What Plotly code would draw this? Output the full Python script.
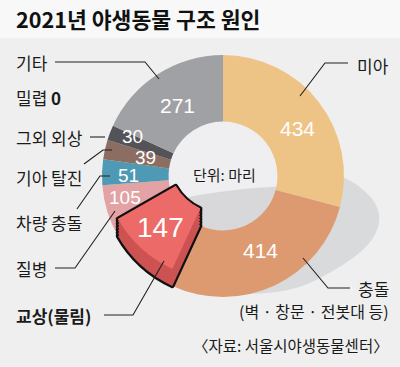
import math
import plotly.graph_objects as go

W, H = 400, 367

# ---- data ----
categories = ["미아", "충돌", "교상(물림)", "질병", "차량 충돌", "기아 탈진", "그외 외상", "밀렵", "기타"]
values = [434, 414, 147, 105, 51, 39, 30, 0, 271]
colors = ["#EEC386", "#DD9A70", "#EC6A67", "#E3A2A3", "#4E99B4", "#8B6D62", "#535358", "#999999", "#A0A1A5"]
highlight = [False, False, True, False, False, False, False, False, False]
# in-slice number label placement (radius in px, angle nudge in degrees)
label_r = [89, 83, 93, 100, 95, 80, 99, 0, 84]
label_da = [5, -1.4, 0, 4.4, -1.2, 1.1, 2.3, 0, 0]
label_size = [21, 21, 28, 19, 19, 19, 19, 0, 21]

KR = "Noto Sans CJK KR"
NUM = "Liberation Sans, Arial"

cx, cy = 223, 176
r_out = 121
hole = 0.45
lift = 17          # raised (extruded) height of the highlighted slice, px
side_color = "#CC5351"
edge_color = "#111111"


def px(x):
    return x / W


def py(y):
    return 1 - y / H


def P(x, y):
    return f"{px(x)},{py(y)}"


def dom(shift=0):
    return dict(x=[px(cx - r_out), px(cx + r_out)],
                y=[py(cy + r_out - shift), py(cy - r_out - shift)])


common = dict(labels=categories, values=values, sort=False, direction="clockwise", rotation=0,
              hole=hole, textinfo="none", showlegend=False)

fig = go.Figure()
fig.add_trace(go.Pie(**common, hoverinfo="label+value",
                     marker=dict(colors=colors, line=dict(width=0)), domain=dom(0)))

clear = "rgba(0,0,0,0)"
shifts = list(range(0, lift, 3)) + [lift]
# silhouette outline of the raised block
for s in shifts:
    fig.add_trace(go.Pie(**common, hoverinfo="skip",
                         marker=dict(colors=[edge_color if h else clear for h in highlight],
                                     line=dict(color=[edge_color if h else clear for h in highlight],
                                               width=[4.5 if h else 0 for h in highlight])),
                         domain=dom(s)))
# side faces
for s in shifts:
    fig.add_trace(go.Pie(**common, hoverinfo="skip",
                         marker=dict(colors=[side_color if h else clear for h in highlight],
                                     line=dict(width=0)),
                         domain=dom(s)))
# top face
fig.add_trace(go.Pie(**common, hoverinfo="skip",
                     marker=dict(colors=[c if h else clear for c, h in zip(colors, highlight)],
                                 line=dict(width=0)),
                     domain=dom(lift)))

shapes = []
# title band
shapes.append(dict(type="rect", xref="paper", yref="paper", x0=0, x1=1, y0=py(38), y1=1,
                   fillcolor="#F8F8F8", line_width=0, layer="below"))
# soft shadow to the lower right of the donut
shadow = (f"M {P(300,170)} L {P(343,177)} C {P(366,188)} {P(382,205)} {P(379,222)} "
          f"C {P(376,245)} {P(350,262)} {P(320,278)} C {P(300,289)} {P(280,293)} {P(250,294)} "
          f"L {P(250,240)} Z")
shapes.append(dict(type="path", xref="paper", yref="paper", path=shadow,
                   fillcolor="#D9DADC", line_width=0, layer="below"))
# hole: shaded lower part, light upper part
shapes.append(dict(type="circle", xref="paper", yref="paper", x0=px(cx - 58), x1=px(cx + 58),
                   y0=py(cy + 58), y1=py(cy - 58), fillcolor="#D8D8DA", line_width=0, layer="below"))
path = (f"M {P(160,100)} L {P(292,100)} L {P(292,186)} "
        f"Q {P(223,188)} {P(160,203)} Z")
shapes.append(dict(type="path", xref="paper", yref="paper", path=path,
                   fillcolor="#EFEFF1", line_width=0, layer="below"))

# leader lines
leaders = [
    [(55, 62), (145, 62), (159, 79)],          # 기타
    [(90, 137), (105, 137)],                    # 그외 외상
    [(84, 164), (103, 150), (112, 150)],        # 기아 탈진
    [(77, 209), (100, 176), (110, 176)],        # 차량 충돌
    [(55, 268), (75, 268), (115, 211)],         # 질병
    [(104, 315), (133, 315), (164, 261)],       # 교상
    [(348, 63), (325, 63), (300, 96)],          # 미아
    [(303, 258), (328, 288), (350, 288)],       # 충돌
]
for pts in leaders:
    d = "M " + " L ".join(P(x, y) for x, y in pts)
    shapes.append(dict(type="path", xref="paper", yref="paper", path=d,
                       line=dict(color="#222222", width=1.1)))

ann = []
# numbers inside slices computed from slice angles
total = sum(values)
cum = 0
for v, r, da, fs, h in zip(values, label_r, label_da, label_size, highlight):
    mid = (cum + v / 2) / total * 360 + da
    cum += v
    if v == 0:
        continue
    a = math.radians(mid)
    x = cx + r * math.sin(a)
    y = cy - r * math.cos(a) - (lift if h else 0)
    ann.append(dict(x=px(x), y=py(y), xref="paper", yref="paper", text=str(v), showarrow=False,
                    xanchor="center", yanchor="middle",
                    font=dict(family=NUM, size=fs, color="white")))


def txt(x, y, s, size=17, anchor="left", color="#1a1a1a", family=KR, weight=None):
    f = dict(family=family, size=size, color=color)
    if weight:
        f["weight"] = weight
    ann.append(dict(x=px(x), y=py(y), xref="paper", yref="paper", text=s, showarrow=False,
                    xanchor=anchor, yanchor="middle", font=f))


txt(14, 19, "2021년 야생동물 구조 원인", size=21.6, weight=700, color="#111111")
txt(14, 62, "기타")
txt(14, 98, "밀렵 <b>0</b>")
txt(14, 137, "그외 외상")
txt(14, 177, "기아 탈진")
txt(14, 222, "차량 충돌")
txt(14, 268, "질병")
txt(14, 315, "교상(물림)", weight=700)
txt(391, 65, "미아", anchor="right")
txt(391, 288, "충돌", anchor="right")
txt(391, 311, "(벽 · 창문 · 전봇대 등)", size=16, anchor="right")
txt(391, 345, "〈자료: 서울시야생동물센터〉", size=15.5, anchor="right")
txt(224, 174, "단위: 마리", size=15, anchor="center")

fig.update_layout(
    width=W, height=H, margin=dict(l=0, r=0, t=0, b=0),
    paper_bgcolor="#EFEFF0", plot_bgcolor="#EFEFF0",
    shapes=shapes, annotations=ann,
)
fig.write_html("out.html", config={"displayModeBar": False},
               post_script="document.body.style.margin='0';document.body.style.overflow='hidden';")
